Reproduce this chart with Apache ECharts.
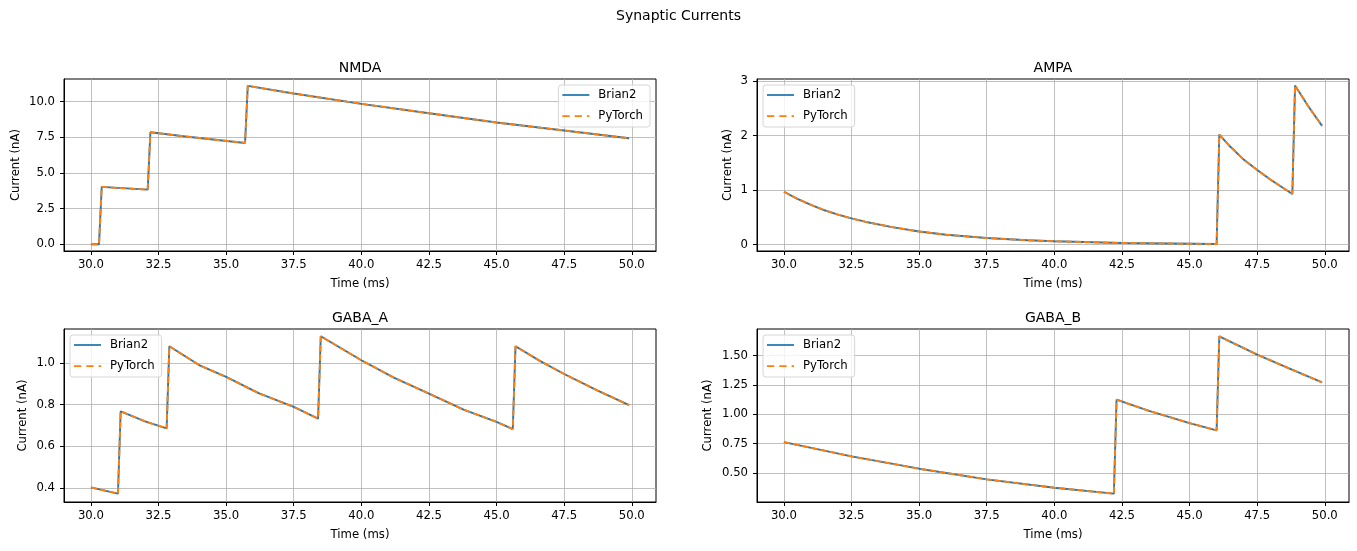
<!DOCTYPE html>
<html>
<head>
<meta charset="utf-8">
<script src="https://cdn.jsdelivr.net/npm/echarts@6/dist/echarts.min.js"></script>
<style>
html, body { margin: 0; padding: 0; background: #fff; }
#chart { width: 1357px; height: 551px; }
</style>
</head>
<body>
<div id="chart"></div>
<script>
// values (time in ms, current in nA)
var timeTicks = [30, 32.5, 35, 37.5, 40, 42.5, 45, 47.5, 50];

var nmdaT = [30.0, 30.3, 30.4, 31.0, 32.1, 32.2, 33.5, 35.7, 35.8, 37.5, 40.0, 42.5, 45.0, 47.5, 49.9];
var nmdaI = [0, 0, 4.02, 3.95, 3.83, 7.85, 7.55, 7.10, 11.1, 10.56, 9.84, 9.18, 8.53, 7.97, 7.43];
var nmdaTicks = [0, 2.5, 5, 7.5, 10];

var ampaT = [30.0, 30.5, 31.0, 31.5, 32.0, 32.5, 33.0, 34.0, 35.0, 36.0, 37.5, 39.0, 40.0, 42.5, 45.0, 46.0, 46.1, 46.5, 47.0, 47.5, 48.0, 48.8, 48.9, 49.4, 49.9];
var ampaI = [0.97, 0.84, 0.73, 0.63, 0.55, 0.48, 0.42, 0.32, 0.24, 0.18, 0.12, 0.08, 0.06, 0.03, 0.015, 0.01, 2.02, 1.80, 1.56, 1.37, 1.19, 0.93, 2.92, 2.53, 2.18];
var ampaTicks = [0, 1, 2, 3];

var gabaAT = [30.0, 31.0, 31.1, 32.0, 32.8, 32.9, 34.0, 35.0, 36.2, 37.5, 38.4, 38.5, 40.0, 41.2, 42.5, 43.8, 45.0, 45.6, 45.7, 46.6, 47.5, 48.7, 49.9];
var gabaAI = [0.403, 0.373, 0.768, 0.72, 0.686, 1.08, 0.99, 0.933, 0.855, 0.789, 0.733, 1.128, 1.013, 0.93, 0.853, 0.775, 0.717, 0.683, 1.08, 1.01, 0.947, 0.87, 0.798];
var gabaATicks = [0.4, 0.6, 0.8, 1.0];

var gabaBT = [30.0, 32.5, 35.0, 37.5, 40.0, 42.2, 42.3, 43.5, 45.0, 46.0, 46.1, 47.5, 48.7, 49.9];
var gabaBI = [0.764, 0.642, 0.537, 0.446, 0.375, 0.324, 1.125, 1.03, 0.926, 0.864, 1.665, 1.509, 1.39, 1.273];
var gabaBTicks = [0.5, 0.75, 1.0, 1.25, 1.5];

var seriesNames = ['Brian2', 'PyTorch'];
var font = 'DejaVu Sans';

// legend handles: plain line and dashed line
var solidIcon = 'path://M0,0H27V1.75H0Z';
var dashIcon = 'path://M0,0H7.3V1.75H0Z M12.3,0H19.6V1.75H12.3Z M24.6,0H27V1.75H24.6Z';

var panels = [
  { title: 'NMDA', t: nmdaT, v: nmdaI, ticks: nmdaTicks, dec: 1, min: -0.47, max: 11.58,
    left: 64, top: 79, h: 172, nameGap: 42, legendRight: true },
  { title: 'AMPA', t: ampaT, v: ampaI, ticks: ampaTicks, dec: 0, min: -0.118, max: 3.04,
    left: 757, top: 79, h: 172, nameGap: 23 },
  { title: 'GABA_A', t: gabaAT, v: gabaAI, ticks: gabaATicks, dec: 1, min: 0.333, max: 1.163,
    left: 64, top: 329, h: 173, nameGap: 35 },
  { title: 'GABA_B', t: gabaBT, v: gabaBI, ticks: gabaBTicks, dec: 2, min: 0.253, max: 1.728,
    left: 757, top: 329, h: 173, nameGap: 43 }
];

function pairs(t, v) {
  var out = [];
  for (var i = 0; i < t.length; i++) out.push([t[i], v[i]]);
  return out;
}

var txt = { fontFamily: font, fontSize: 11.7, color: '#000' };

var option = {
  animation: false,
  backgroundColor: '#fff',
  title: [{
    text: 'Synaptic Currents', left: 678.5, top: 9, padding: 0, textAlign: 'center',
    textStyle: { fontFamily: font, fontSize: 14, fontWeight: 'normal', color: '#000' }
  }],
  grid: [], xAxis: [], yAxis: [], legend: [], series: []
};

panels.forEach(function(p, i) {
  option.title.push({
    text: p.title, left: p.left + 296, top: p.top - 18, padding: 0, textAlign: 'center',
    textStyle: { fontFamily: font, fontSize: 14, fontWeight: 'normal', color: '#000' }
  });
  option.grid.push({
    left: p.left, top: p.top, width: 592, height: p.h,
    show: true, borderColor: '#000', borderWidth: 1, backgroundColor: 'transparent'
  });
  option.xAxis.push({
    type: 'value', gridIndex: i, min: 29.005, max: 50.895,
    name: 'Time (ms)', nameLocation: 'middle', nameGap: 27, nameTextStyle: txt,
    axisLine: { show: true, onZero: false, lineStyle: { color: '#000', width: 1 } },
    axisTick: { show: true, length: 4, customValues: timeTicks, lineStyle: { color: '#000' } },
    axisLabel: Object.assign({ customValues: timeTicks, margin: 8,
      formatter: function(v) { return v.toFixed(1); } }, txt),
    splitLine: { show: true, lineStyle: { color: '#b0b0b0', width: 0.8 } }
  });
  option.yAxis.push({
    type: 'value', gridIndex: i, min: p.min, max: p.max,
    name: 'Current (nA)', nameLocation: 'middle', nameGap: p.nameGap, nameTextStyle: txt,
    axisLine: { show: true, onZero: false, lineStyle: { color: '#000', width: 1 } },
    axisTick: { show: true, length: 4, customValues: p.ticks, lineStyle: { color: '#000' } },
    axisLabel: Object.assign({ customValues: p.ticks, margin: 9,
      formatter: (function(d) { return function(v) { return v.toFixed(d); }; })(p.dec) }, txt),
    splitLine: { show: true, lineStyle: { color: '#b0b0b0', width: 0.8 } }
  });
  var lg = {
    orient: 'vertical', top: p.top + 6,
    data: [{ name: seriesNames[0], icon: solidIcon }, { name: seriesNames[1], icon: dashIcon }],
    itemWidth: 27, itemHeight: 12, itemGap: 9,
    padding: [4, 7, 5, 4],
    backgroundColor: 'rgba(255,255,255,0.8)', borderColor: '#d6d6d6', borderWidth: 1, borderRadius: 3,
    textStyle: Object.assign({ padding: [0, 0, 0, 4] }, txt)
  };
  if (p.legendRight) lg.right = 1357 - (p.left + 592) + 6;
  else lg.left = p.left + 6;
  option.legend.push(lg);

  var data = pairs(p.t, p.v);
  option.series.push({
    name: 'Brian2', type: 'line', xAxisIndex: i, yAxisIndex: i, data: data,
    symbol: 'none', lineStyle: { color: '#1f77b4', width: 1.9 }, itemStyle: { color: '#1f77b4' }
  });
  option.series.push({
    name: 'PyTorch', type: 'line', xAxisIndex: i, yAxisIndex: i, data: data,
    symbol: 'none', lineStyle: { color: '#ff7f0e', width: 1.9, type: [6.5, 2.8] }, itemStyle: { color: '#ff7f0e' }
  });
});

var chart = echarts.init(document.getElementById('chart'));
chart.setOption(option);
</script>
</body>
</html>
